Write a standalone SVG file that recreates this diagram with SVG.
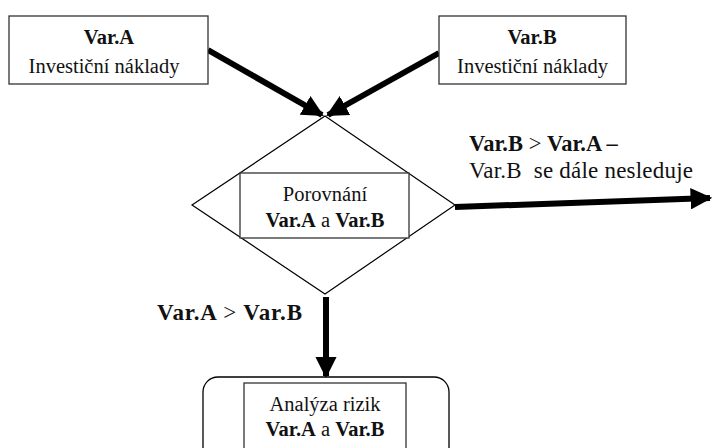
<svg xmlns="http://www.w3.org/2000/svg" width="712" height="448" viewBox="0 0 712 448">
<style>
.b{font-weight:bold}
.box{fill:#fff;stroke:#333;stroke-width:1.3}
.conn{stroke:#000;stroke-width:6;fill:none}
</style>
<defs>
<marker id="ah" viewBox="0 0 10 10" refX="9" refY="5" markerWidth="3.6" markerHeight="3.6" orient="auto" markerUnits="strokeWidth">
<path d="M0,0 L10,5 L0,10 z" fill="#000"/>
</marker>
</defs>
<rect width="712" height="448" fill="#fff"/>
<g id="connectors">
<line class="conn" x1="208" y1="50" x2="322" y2="115" marker-end="url(#ah)"/>
<line class="conn" x1="439" y1="53" x2="328" y2="115" marker-end="url(#ah)"/>
<line class="conn" x1="455" y1="207" x2="710" y2="198" marker-end="url(#ah)"/>
<line class="conn" x1="326" y1="297" x2="326" y2="376" marker-end="url(#ah)"/>
</g>
<g fill="#111">
<g id="varA">
<rect class="box" x="9" y="16" width="199" height="68"/>
<text style="font-family:'Liberation Serif',serif;font-size:20.5px" class="b" x="109" y="44" text-anchor="middle">Var.A</text>
<text style="font-family:'Liberation Serif',serif;font-size:20.5px" x="104" y="73" text-anchor="middle">Investiční náklady</text>
</g>
<g id="varB">
<rect class="box" x="439" y="16" width="187" height="68"/>
<text style="font-family:'Liberation Serif',serif;font-size:20.5px" class="b" x="532" y="44" text-anchor="middle">Var.B</text>
<text style="font-family:'Liberation Serif',serif;font-size:20.5px" x="532.5" y="73" text-anchor="middle">Investiční náklady</text>
</g>
<g id="porovnani">
<polygon points="325,116 455,205 325,294 192,205" fill="#fff" stroke="#000" stroke-width="1.2"/>
<rect class="box" x="240" y="173" width="169" height="65"/>
<text style="font-family:'Liberation Serif',serif;font-size:20.5px" x="325" y="201" text-anchor="middle">Porovnání</text>
<text style="font-family:'Liberation Serif',serif;font-size:20.5px" x="325" y="227" text-anchor="middle"><tspan class="b">Var.A</tspan> a <tspan class="b">Var.B</tspan></text>
</g>
<g id="labelRight">
<text style="font-family:'Liberation Serif',serif;font-size:22.5px" x="469" y="151"><tspan class="b">Var.B</tspan> &gt; <tspan class="b">Var.A –</tspan></text>
<text style="font-family:'Liberation Serif',serif;font-size:23px" x="469" y="178" textLength="224" lengthAdjust="spacing" xml:space="preserve">Var.B  se dále nesleduje</text>
</g>
<g id="labelDown">
<text style="font-family:'Liberation Serif',serif;font-size:23px" class="b" x="157" y="320" textLength="145" lengthAdjust="spacing">Var.A <tspan font-weight="normal" style="font-weight:normal">&gt;</tspan> Var.B</text>
</g>
<g id="analyza">
<rect x="203" y="377" width="246" height="90" rx="15" ry="15" fill="#fff" stroke="#000" stroke-width="1.3"/>
<rect class="box" x="244" y="383" width="162" height="80"/>
<text style="font-family:'Liberation Serif',serif;font-size:20.5px" x="325" y="411" text-anchor="middle">Analýza rizik</text>
<text style="font-family:'Liberation Serif',serif;font-size:20.5px" x="325" y="436" text-anchor="middle"><tspan class="b">Var.A</tspan> a <tspan class="b">Var.B</tspan></text>
</g>
</g>
</svg>
